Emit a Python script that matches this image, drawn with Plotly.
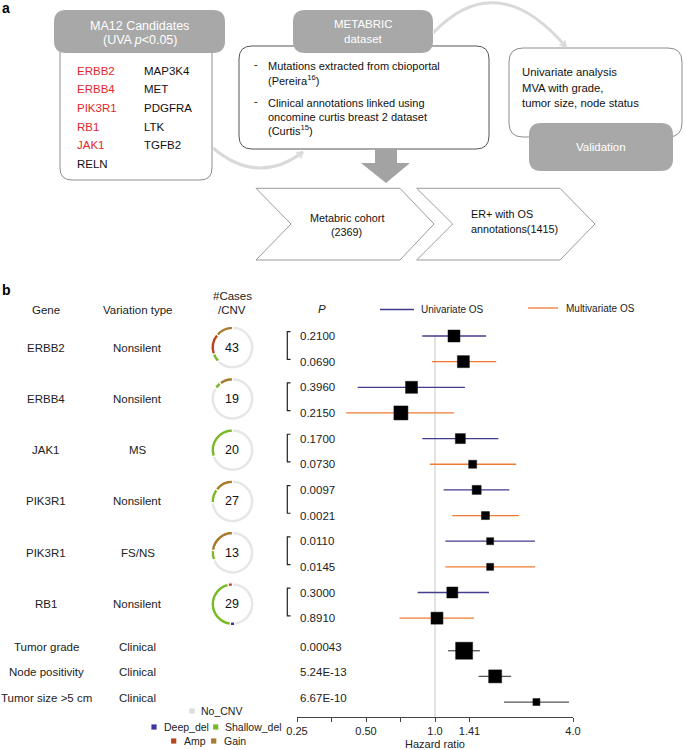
import math
import plotly.graph_objects as go

# ---------------- data ----------------
genes = ["ERBB2", "ERBB4", "JAK1", "PIK3R1", "PIK3R1", "RB1"]
variation = ["Nonsilent", "Nonsilent", "MS", "Nonsilent", "FS/NS", "Nonsilent"]
cases = [43, 19, 20, 27, 13, 29]
cnv_gain = [6, 2, 0, 4, 3, 0]
cnv_amp = [7, 0, 0, 0, 0, 1]
cnv_shallow = [3, 1, 6, 3, 1, 13]
cnv_deep = [0, 0, 0, 0, 0, 1]

uni_hr = [1.21, 0.79, 1.29, 1.52, 1.74, 1.19]
uni_lo = [0.88, 0.46, 0.88, 1.09, 1.11, 0.84]
uni_hi = [1.67, 1.35, 1.89, 2.11, 2.73, 1.72]
uni_p = ["0.2100", "0.3960", "0.1700", "0.0097", "0.0110", "0.3000"]
uni_w = [12, 12, 10, 9, 7, 11]

multi_hr = [1.33, 0.71, 1.46, 1.66, 1.74, 1.02]
multi_lo = [0.97, 0.41, 0.95, 1.19, 1.11, 0.70]
multi_hi = [1.85, 1.21, 2.26, 2.32, 2.73, 1.48]
multi_p = ["0.0690", "0.2150", "0.0730", "0.0021", "0.0145", "0.8910"]
multi_w = [12, 14, 8, 8, 7, 12]

clin_names = ["Tumor grade", "Node positivity", "Tumor size &gt;5 cm"]
clin_type = ["Clinical", "Clinical", "Clinical"]
clin_hr = [1.34, 1.83, 2.77]
clin_lo = [1.14, 1.55, 2.00]
clin_hi = [1.57, 2.15, 3.84]
clin_p = ["0.00043", "5.24E-13", "6.67E-10"]
clin_w = [17, 13, 7]

tick_vals = [0.25, 0.5, 1.0, 1.4142, 4.0]
tick_text = ["0.25", "0.50", "1.0", "1.41", "4.0"]
minor_tick_vals = [0.3536, 0.7071]

cand_red = ["ERBB2", "ERBB4", "PIK3R1", "RB1", "JAK1"]
cand_other = ["RELN"]
cand_black = ["MAP3K4", "MET", "PDGFRA", "LTK", "TGFB2"]

# ---------------- geometry helpers ----------------
W, H = 685, 750
FONT = "Liberation Sans, Arial, sans-serif"
ROW0, ROWH = 336.0, 25.65
Y_TOP_PX, Y_BOT_PX = 300.0, 717.0
TXT = 11.5


def fx(x):
    return x / W


def fy(y):
    return 1 - y / H


def rowpx(i):
    return ROW0 + ROWH * i


def P(x, y):
    return f"{fx(x):.5f},{fy(y):.5f}"


def rrect(x0, y0, x1, y1, r):
    return (f"M {P(x0+r,y0)} L {P(x1-r,y0)} Q {P(x1,y0)} {P(x1,y0+r)} "
            f"L {P(x1,y1-r)} Q {P(x1,y1)} {P(x1-r,y1)} L {P(x0+r,y1)} "
            f"Q {P(x0,y1)} {P(x0,y1-r)} L {P(x0,y0+r)} Q {P(x0,y0)} {P(x0+r,y0)} Z")


shapes = []
annotations = []


def ann(text, x, y, size=11, color="#222", xanchor="center", yref="paper", bold=False, **kw):
    yy = fy(y) if yref == "paper" else y
    if bold:
        text = f"<b>{text}</b>"
    annotations.append(dict(text=text, x=fx(x), y=yy, xref="paper", yref=yref,
                            xanchor=xanchor, yanchor="middle", showarrow=False,
                            font=dict(family=FONT, size=size, color=color), **kw))


GREY_HDR = "#a8a8a8"
BORDER = "#8c8c8c"
ARC = "#d9d9d9"

# ---------------- panel a: flowchart ----------------
ann("a", 0, 8, size=14, color="#000", xanchor="left", bold=True)

# box 1
shapes.append(dict(type="path", path=rrect(60, 40, 212, 180, 12), xref="paper", yref="paper",
                   line=dict(color=BORDER, width=1), fillcolor="white"))
shapes.append(dict(type="path", path=rrect(54, 10, 225, 53, 12), xref="paper", yref="paper",
                   line=dict(width=0), fillcolor=GREY_HDR))
ann("MA12 Candidates", 139.5, 25.5, size=12.5, color="white")
ann("(UVA <i>p</i>&lt;0.05)", 139.5, 40, size=12.5, color="white")
list_y = [70.7, 89.3, 108.3, 127, 145.3, 164]
for k, g in enumerate(cand_red + cand_other):
    ann(g, 75, list_y[k], size=11.5, color="#e2262b" if g in cand_red else "#111", xanchor="left")
for k, g in enumerate(cand_black):
    ann(g, 141.5, list_y[k], size=11.5, color="#111", xanchor="left")

# box 2
shapes.append(dict(type="path", path=rrect(239, 46, 489, 149, 13), xref="paper", yref="paper",
                   line=dict(color="#555", width=1), fillcolor="white"))
shapes.append(dict(type="path", path=rrect(293, 10, 433, 53, 12), xref="paper", yref="paper",
                   line=dict(width=0), fillcolor=GREY_HDR))
ann("METABRIC", 363, 24.5, size=11.5, color="white")
ann("dataset", 363, 39, size=11.5, color="white")
ann("-", 251.5, 64.5, size=11, color="#111", xanchor="left")
ann("Mutations extracted from cbioportal", 265.5, 65.7, size=11, color="#111", xanchor="left")
ann("(Pereira<sup>16</sup>)", 265.5, 80.5, size=11, color="#111", xanchor="left")
ann("-", 251.5, 101.5, size=11, color="#111", xanchor="left")
ann("Clinical annotations linked using", 265.5, 102.7, size=11, color="#111", xanchor="left")
ann("oncomine curtis breast 2 dataset", 265.5, 116.7, size=11, color="#111", xanchor="left")
ann("(Curtis<sup>15</sup>)", 265.5, 130.5, size=11, color="#111", xanchor="left")

# box 3
shapes.append(dict(type="path", path=rrect(509, 48, 682, 137, 14), xref="paper", yref="paper",
                   line=dict(color=BORDER, width=1), fillcolor="white"))
shapes.append(dict(type="path", path=rrect(529, 123, 673, 171, 12), xref="paper", yref="paper",
                   line=dict(width=0), fillcolor=GREY_HDR))
ann("Univariate analysis", 520, 72.3, size=11.3, color="#111", xanchor="left")
ann("MVA with grade,", 520, 87.7, size=11.3, color="#111", xanchor="left")
ann("tumor size, node status", 520, 102.7, size=11.3, color="#111", xanchor="left")
ann("Validation", 601, 146.5, size=11.5, color="white")


def arc_arrow(p0, c, p2):
    shapes.append(dict(type="path", path=f"M {P(*p0)} Q {P(*c)} {P(*p2)}", xref="paper",
                       yref="paper", line=dict(color=ARC, width=3)))
    dx, dy = p2[0] - c[0], p2[1] - c[1]
    n = math.hypot(dx, dy)
    dx, dy = dx / n, dy / n
    L = 7
    for s in (1, -1):
        a = math.radians(150 * s)
        ex = p2[0] + L * (dx * math.cos(a) - dy * math.sin(a))
        ey = p2[1] + L * (dx * math.sin(a) + dy * math.cos(a))
        shapes.append(dict(type="path", path=f"M {P(*p2)} L {P(ex, ey)}", xref="paper",
                           yref="paper", line=dict(color=ARC, width=1.5)))


arc_arrow((213, 148), (258, 186), (303, 152))
arc_arrow((433, 33), (497, -34), (566, 47))

# big down arrow
shapes.append(dict(type="path",
                   path=f"M {P(375,149)} L {P(397,149)} L {P(397,163)} L {P(410,163)} L {P(386,183)} "
                        f"L {P(361,163)} L {P(375,163)} Z",
                   xref="paper", yref="paper", line=dict(width=0), fillcolor="#a3a3a3"))

# chevrons
for (x0, x1, xt, xn) in [(256, 400, 434, 291), (416.7, 560, 595, 452.7)]:
    shapes.append(dict(type="path",
                       path=f"M {P(x0,188.3)} L {P(x1,188.3)} L {P(xt,224)} L {P(x1,260)} "
                            f"L {P(x0,260)} L {P(xn,224)} Z",
                       xref="paper", yref="paper", line=dict(color="#9a9a9a", width=1),
                       fillcolor="white"))
ann("Metabric cohort", 346.7, 217.7, size=10.8, color="#111")
ann("(2369)", 346.7, 232.3, size=10.8, color="#111")
ann("ER+ with OS", 468.7, 213.7, size=10.8, color="#111", xanchor="left")
ann("annotations(1415)", 468.7, 228.7, size=10.8, color="#111", xanchor="left")

# ---------------- panel b ----------------
ann("b", 0, 290, size=14, color="#000", xanchor="left", bold=True)
ann("Gene", 46, 310, size=TXT)
ann("Variation type", 137.7, 310, size=TXT)
ann("#Cases", 232.5, 296, size=TXT)
ann("/CNV", 232.5, 310, size=TXT)
ann("<i>P</i>", 322, 309, size=TXT)

# forest legend
shapes.append(dict(type="line", xref="paper", yref="paper", x0=fx(380), x1=fx(414), y0=fy(309.5),
                   y1=fy(309.5), line=dict(color="#3f3a8c", width=1.3)))
ann("Univariate OS", 419.3, 309.3, size=10, xanchor="left")
shapes.append(dict(type="line", xref="paper", yref="paper", x0=fx(528), x1=fx(558), y0=fy(308),
                   y1=fy(308), line=dict(color="#f07a32", width=1.3)))
ann("Multivariate OS", 564, 308, size=10, xanchor="left")

COLORS = {"Gain": "#a87c2c", "Amp": "#b8461f", "Shallow_del": "#7bb92a",
          "Deep_del": "#3c37a0", "No_CNV": "#e6e6e6"}

fig = go.Figure()

# gene rows
uni_y = [2 * g for g in range(len(genes))]
multi_y = [2 * g + 1 for g in range(len(genes))]
for g in range(len(genes)):
    yc = 2 * g + 0.45
    ann(genes[g], 46, yc, size=TXT, yref="y")
    ann(variation[g], 137.7, yc, size=TXT, yref="y")
    # bracket
    t, b = 2 * g - 0.17, 2 * g + 1 - 0.09
    shapes.append(dict(type="path", xref="paper", yref="y",
                       path=f"M {fx(290.5):.5f},{t} L {fx(287.3):.5f},{t} L {fx(287.3):.5f},{b} L {fx(290.5):.5f},{b}",
                       line=dict(color="#222", width=1.2)))
    ann(uni_p[g], 298, 2 * g, size=TXT, xanchor="left", yref="y")
    ann(multi_p[g], 298, 2 * g + 1, size=TXT, xanchor="left", yref="y")
    # donut: clockwise from 12 o'clock with reversed order == counterclockwise Gain, Amp, ...
    cpx = rowpx(yc)
    r = 21.5
    no_cnv = cases[g] - cnv_gain[g] - cnv_amp[g] - cnv_shallow[g] - cnv_deep[g]
    labels = ["No_CNV", "Deep_del", "Shallow_del", "Amp", "Gain"]
    vals = [no_cnv, cnv_deep[g], cnv_shallow[g], cnv_amp[g], cnv_gain[g]]
    fig.add_trace(go.Pie(values=vals, labels=labels, sort=False, direction="clockwise",
                         rotation=0, hole=0.83, textinfo="none", showlegend=False,
                         marker=dict(colors=[COLORS[l] for l in labels],
                                     line=dict(color="white", width=1.2)),
                         domain=dict(x=[fx(232.5 - r), fx(232.5 + r)],
                                     y=[fy(cpx + r), fy(cpx - r)])))
    ann(str(cases[g]), 232.5, cpx, size=12.5, color="#111")

# clinical rows
clin_y = [12.27 + k for k in range(len(clin_names))]
for k in range(len(clin_names)):
    ann(clin_names[k], 46, clin_y[k] - 0.16, size=TXT, yref="y")
    ann(clin_type[k], 137.7, clin_y[k] - 0.16, size=TXT, yref="y")
    ann(clin_p[k], 298, clin_y[k] - 0.16, size=TXT, xanchor="left", yref="y")

# CNV legend
leg = [("No_CNV", 192, 711, 199.3), ("Deep_del", 154, 727, 161.7), ("Shallow_del", 215.7, 727, 223.3),
       ("Amp", 173.7, 741, 182), ("Gain", 213.7, 741, 221.7)]
for name, sx, sy, tx in leg:
    shapes.append(dict(type="rect", xref="paper", yref="paper", x0=fx(sx - 2.6), x1=fx(sx + 2.6),
                       y0=fy(sy + 2.6), y1=fy(sy - 2.6), line=dict(width=0),
                       fillcolor=COLORS[name] if name != "No_CNV" else "#dcdcdc"))
    ann(name, tx, sy, size=10.5, color="#222", xanchor="left")

# reference line at HR = 1
shapes.append(dict(type="line", xref="x", yref="y", x0=1, x1=1, y0=-0.05,
                   y1=(Y_BOT_PX - ROW0) / ROWH, line=dict(color="#e3e3e3", width=2), layer="below"))


def forest(hr, lo, hi, ys, sizes, color):
    fig.add_trace(go.Scatter(
        x=hr, y=ys, mode="markers", showlegend=False, xaxis="x", yaxis="y",
        marker=dict(symbol="square", color="black", size=sizes, opacity=1,
                    line=dict(color="#111", width=0.5)),
        error_x=dict(type="data", symmetric=False,
                     array=[h - m for h, m in zip(hi, hr)],
                     arrayminus=[m - l for m, l in zip(hr, lo)],
                     color=color, thickness=1.3, width=0)))


forest(uni_hr, uni_lo, uni_hi, uni_y, uni_w, "#433d8e")
forest(multi_hr, multi_lo, multi_hi, multi_y, multi_w, "#f07a32")
forest(clin_hr, clin_lo, clin_hi, clin_y, clin_w, "#555555")

fig.update_layout(
    width=W, height=H, margin=dict(l=0, r=0, t=0, b=0, autoexpand=False),
    paper_bgcolor="white", plot_bgcolor="rgba(0,0,0,0)",
    font=dict(family=FONT, color="#222"),
    xaxis=dict(type="log", range=[math.log10(0.25), math.log10(4.0)],
               domain=[fx(297), fx(573)], anchor="y", automargin=False,
               tickmode="array", tickvals=tick_vals, ticktext=tick_text,
               tickfont=dict(size=11, color="#222"),
               showline=True, linecolor="#444", linewidth=1, ticks="outside", ticklen=4,
               tickcolor="#444", showgrid=False, zeroline=False,
               minor=dict(tickmode="array", tickvals=minor_tick_vals, ticks="outside", ticklen=4,
                          tickcolor="#444", showgrid=False),
               title=dict(text="Hazard ratio", font=dict(size=11, color="#222"), standoff=4)),
    yaxis=dict(range=[(Y_BOT_PX - ROW0) / ROWH, (Y_TOP_PX - ROW0) / ROWH],
               domain=[fy(Y_BOT_PX), fy(Y_TOP_PX)], visible=False, automargin=False),
    shapes=shapes, annotations=annotations,
)

fig.write_html("out.html", config={"displayModeBar": False},
               post_script="document.body.style.margin='0px';")
